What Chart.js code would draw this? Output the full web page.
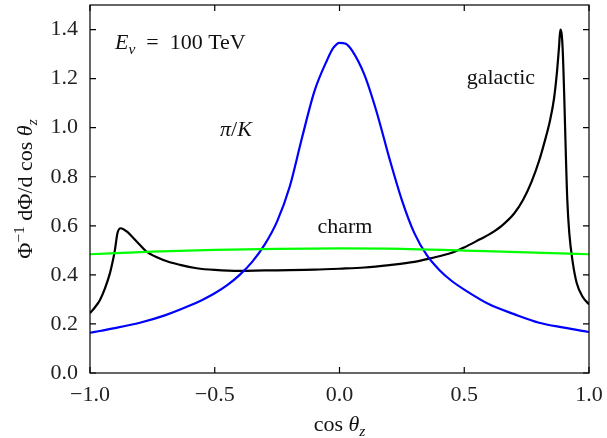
<!DOCTYPE html>
<html>
<head>
<meta charset="utf-8">
<script src="https://cdn.jsdelivr.net/npm/chart.js@4/dist/chart.umd.min.js"></script>
<style>
    html, body { margin: 0; padding: 0; background: #fff; }
    canvas { display: block; }
</style>
</head>
<body>
<canvas id="chart" width="607" height="438"></canvas>
<script>
// pi/K component
const piKX = [-1.0, -0.9, -0.8, -0.7, -0.6, -0.55, -0.5, -0.45, -0.4, -0.35, -0.3, -0.25, -0.2, -0.15, -0.1, -0.05, -0.025, 0.0, 0.025, 0.05, 0.1, 0.15, 0.2, 0.25, 0.3, 0.35, 0.4, 0.45, 0.5, 0.6, 0.7, 0.8, 0.9, 1.0];
const piKY = [0.164, 0.183, 0.205, 0.235, 0.275, 0.298, 0.325, 0.358, 0.40, 0.453, 0.523, 0.618, 0.758, 0.96, 1.15, 1.275, 1.325, 1.346, 1.342, 1.315, 1.215, 1.06, 0.875, 0.705, 0.57, 0.48, 0.42, 0.375, 0.34, 0.28, 0.24, 0.205, 0.185, 0.167];

// galactic component
const galX = [-1.0, -0.98, -0.96, -0.94, -0.92, -0.91, -0.9, -0.89, -0.877, -0.853, -0.813, -0.773, -0.706, -0.639, -0.572, -0.5, -0.4, -0.3, -0.2, -0.1, 0.0, 0.1, 0.2, 0.3, 0.363, 0.45, 0.5, 0.563, 0.6, 0.65, 0.7, 0.736, 0.77, 0.8, 0.82, 0.844, 0.86, 0.871, 0.88, 0.885, 0.894, 0.913, 0.921, 0.935, 0.951, 0.975, 1.0];
const galY = [0.244, 0.268, 0.298, 0.345, 0.407, 0.45, 0.502, 0.57, 0.59, 0.577, 0.536, 0.495, 0.461, 0.441, 0.427, 0.42, 0.416, 0.418, 0.419, 0.421, 0.425, 0.43, 0.44, 0.453, 0.467, 0.49, 0.512, 0.545, 0.565, 0.6, 0.65, 0.706, 0.78, 0.865, 0.935, 1.03, 1.12, 1.22, 1.33, 1.40, 1.33, 0.706, 0.57, 0.45, 0.366, 0.31, 0.28];

// charm component
const charmX = [-1.0, -0.75, -0.5, -0.25, 0.0, 0.25, 0.5, 0.75, 1.0];
const charmY = [0.484, 0.495, 0.502, 0.506, 0.508, 0.506, 0.499, 0.492, 0.484];

const xTicks = [-1.0, -0.5, 0.0, 0.5, 1.0];
const yTicks = [0.0, 0.2, 0.4, 0.6, 0.8, 1.0, 1.2, 1.4];

const serif = '"Liberation Serif", "DejaVu Serif", serif';
const fontSize = 22;

function toPoints(xs, ys) {
    return xs.map((x, i) => ({ x: x, y: ys[i] }));
}

function fmt(v) {
    return v.toFixed(1).replace('-', '\u2212');
}

// draws text made of parts, some italic, some sub/superscript
function drawRich(ctx, parts, x, y, size, align) {
    const fontFor = p => {
        const s = (p.sub || p.sup) ? size * 0.7 : size;
        return (p.i ? 'italic ' : '') + s + 'px ' + serif;
    };
    let total = 0;
    parts.forEach(p => {
        ctx.font = fontFor(p);
        p.w = ctx.measureText(p.t).width;
        total += p.w;
    });
    let cx = x;
    if (align === 'center') cx = x - total / 2;
    else if (align === 'right') cx = x - total;
    ctx.textAlign = 'left';
    ctx.textBaseline = 'alphabetic';
    parts.forEach(p => {
        ctx.font = fontFor(p);
        let dy = 0;
        if (p.sub) dy = size * 0.22;
        if (p.sup) dy = -size * 0.38;
        ctx.fillText(p.t, cx, y + dy);
        cx += p.w;
    });
}

const labels = [
    { x: -0.9, y: 1.32, align: 'left', parts: [{ t: 'E', i: true }, { t: '\u03BD', i: true, sub: true }, { t: '\u2002=\u2002100 TeV' }] },
    { x: -0.415, y: 0.967, align: 'center', parts: [{ t: '\u03C0', i: true }, { t: '/' }, { t: 'K', i: true }] },
    { x: 0.022, y: 0.571, align: 'center', parts: [{ t: 'charm' }] },
    { x: 0.647, y: 1.18, align: 'center', parts: [{ t: 'galactic' }] }
];

const framePlugin = {
    id: 'frame',
    afterDraw(chart) {
        const ctx = chart.ctx;
        const a = chart.chartArea;
        const xs = chart.scales.x;
        const ys = chart.scales.y;
        const len = 6;
        ctx.save();
        ctx.strokeStyle = '#000';
        ctx.lineWidth = 1.2;
        ctx.strokeRect(a.left, a.top, a.right - a.left, a.bottom - a.top);
        ctx.beginPath();
        xTicks.forEach(v => {
            const px = xs.getPixelForValue(v);
            ctx.moveTo(px, a.bottom); ctx.lineTo(px, a.bottom - len);
            ctx.moveTo(px, a.top); ctx.lineTo(px, a.top + len);
        });
        yTicks.forEach(v => {
            const py = ys.getPixelForValue(v);
            ctx.moveTo(a.left, py); ctx.lineTo(a.left + len, py);
            ctx.moveTo(a.right, py); ctx.lineTo(a.right - len, py);
        });
        ctx.stroke();

        ctx.fillStyle = '#111';
        labels.forEach(l => {
            drawRich(ctx, l.parts, xs.getPixelForValue(l.x), ys.getPixelForValue(l.y), fontSize, l.align);
        });

        // axis titles
        drawRich(ctx, [{ t: 'cos ' }, { t: '\u03B8', i: true }, { t: 'z', i: true, sub: true }],
            (a.left + a.right) / 2, 431, fontSize, 'center');
        ctx.translate(32, (a.top + a.bottom) / 2);
        ctx.rotate(-Math.PI / 2);
        drawRich(ctx, [{ t: '\u03A6' }, { t: '\u22121', sup: true }, { t: ' d\u03A6/d cos ' }, { t: '\u03B8', i: true }, { t: 'z', i: true, sub: true }],
            0, 0, fontSize, 'center');
        ctx.restore();
    }
};

new Chart(document.getElementById('chart'), {
    type: 'scatter',
    data: {
        datasets: [
            { label: 'charm', data: toPoints(charmX, charmY), borderColor: '#00ff00' },
            { label: 'pi/K', data: toPoints(piKX, piKY), borderColor: '#0000ff' },
            { label: 'galactic', data: toPoints(galX, galY), borderColor: '#000000' }
        ].map(d => Object.assign(d, {
            showLine: true,
            pointRadius: 0,
            borderWidth: 2.2,
            cubicInterpolationMode: 'monotone',
            fill: false
        }))
    },
    options: {
        responsive: false,
        animation: false,
        layout: { padding: { left: 0, top: 5, right: 18, bottom: 0 } },
        plugins: {
            legend: { display: false },
            tooltip: { enabled: false }
        },
        scales: {
            x: {
                type: 'linear',
                min: -1, max: 1,
                grid: { display: false, drawTicks: false },
                border: { display: false },
                afterBuildTicks: s => { s.ticks = xTicks.map(v => ({ value: v })); },
                afterFit: s => { s.height = 65; s.paddingLeft = 0; s.paddingRight = 0; },
                ticks: {
                    padding: 9,
                    color: '#222',
                    font: { family: serif, size: fontSize },
                    maxRotation: 0,
                    callback: v => fmt(v)
                }
            },
            y: {
                min: 0, max: 1.5,
                grid: { display: false, drawTicks: false },
                border: { display: false },
                afterBuildTicks: s => { s.ticks = yTicks.map(v => ({ value: v })); },
                afterFit: s => { s.width = 90; s.paddingTop = 0; s.paddingBottom = 0; },
                ticks: {
                    padding: 12,
                    color: '#222',
                    font: { family: serif, size: fontSize },
                    callback: v => fmt(v)
                }
            }
        }
    },
    plugins: [framePlugin]
});
</script>
</body>
</html>
